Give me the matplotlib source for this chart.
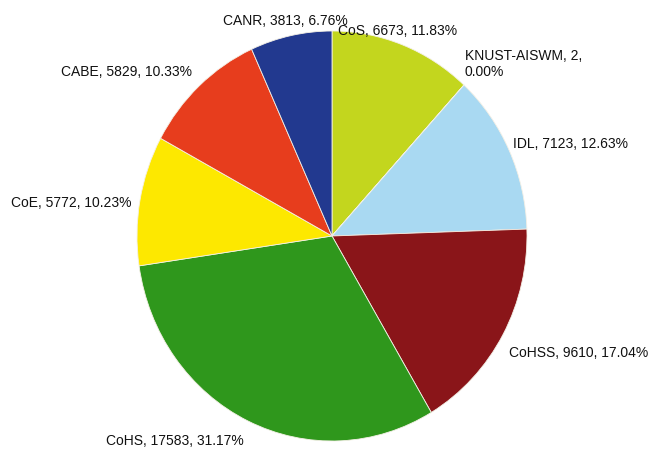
import matplotlib
matplotlib.use('Agg')
import matplotlib.pyplot as plt

# enrolment by college
colleges = ['CoS', 'KNUST-AISWM', 'IDL', 'CoHSS', 'CoHS', 'CoE', 'CABE', 'CANR']
counts = [6673, 2, 7123, 9610, 17583, 5772, 5829, 3813]
percents = ['11.83%', '0.00%', '12.63%', '17.04%', '31.17%', '10.23%', '10.33%', '6.76%']
colors = ['#c3d61e', '#ff9900', '#a9d9f2', '#8a1519', '#2f971c', '#fde800', '#e73d1d', '#22398f']

plt.rcParams['font.family'] = ['Liberation Sans', 'DejaVu Sans']

fig = plt.figure(figsize=(6.56, 4.53), dpi=100)
ax = fig.add_axes([0, 0, 1, 1])

ax.pie(counts, colors=colors, startangle=90, counterclock=False,
       wedgeprops={'edgecolor': '#f4f0e6', 'linewidth': 0.6})
ax.set_aspect('auto')

# pie centre sits at (332, 236) px, radii 195 x 205 px
ax.set_xlim(-332 / 195, (656 - 332) / 195)
ax.set_ylim(-(453 - 236) / 205, 236 / 205)

# label anchors (data units) and alignment, per slice
label_pos = {
    'CoS': (0.03, 1.0, 'left'),
    'KNUST-AISWM': (0.68, 0.84, 'left'),
    'IDL': (0.93, 0.45, 'left'),
    'CoHSS': (0.91, -0.57, 'left'),
    'CoHS': (-1.16, -1.0, 'left'),
    'CoE': (-1.026, 0.16, 'right'),
    'CABE': (-0.72, 0.80, 'right'),
    'CANR': (0.08, 1.05, 'right'),
}

for name, n, pct in zip(colleges, counts, percents):
    x, y, ha = label_pos[name]
    if name == 'KNUST-AISWM':
        txt = f'{name}, {n},\n{pct}'
    else:
        txt = f'{name}, {n}, {pct}'
    ax.text(x, y, txt, ha=ha, va='center', fontsize=10, color='#111111',
            linespacing=1.2)

fig.savefig('out.png', dpi=100)
